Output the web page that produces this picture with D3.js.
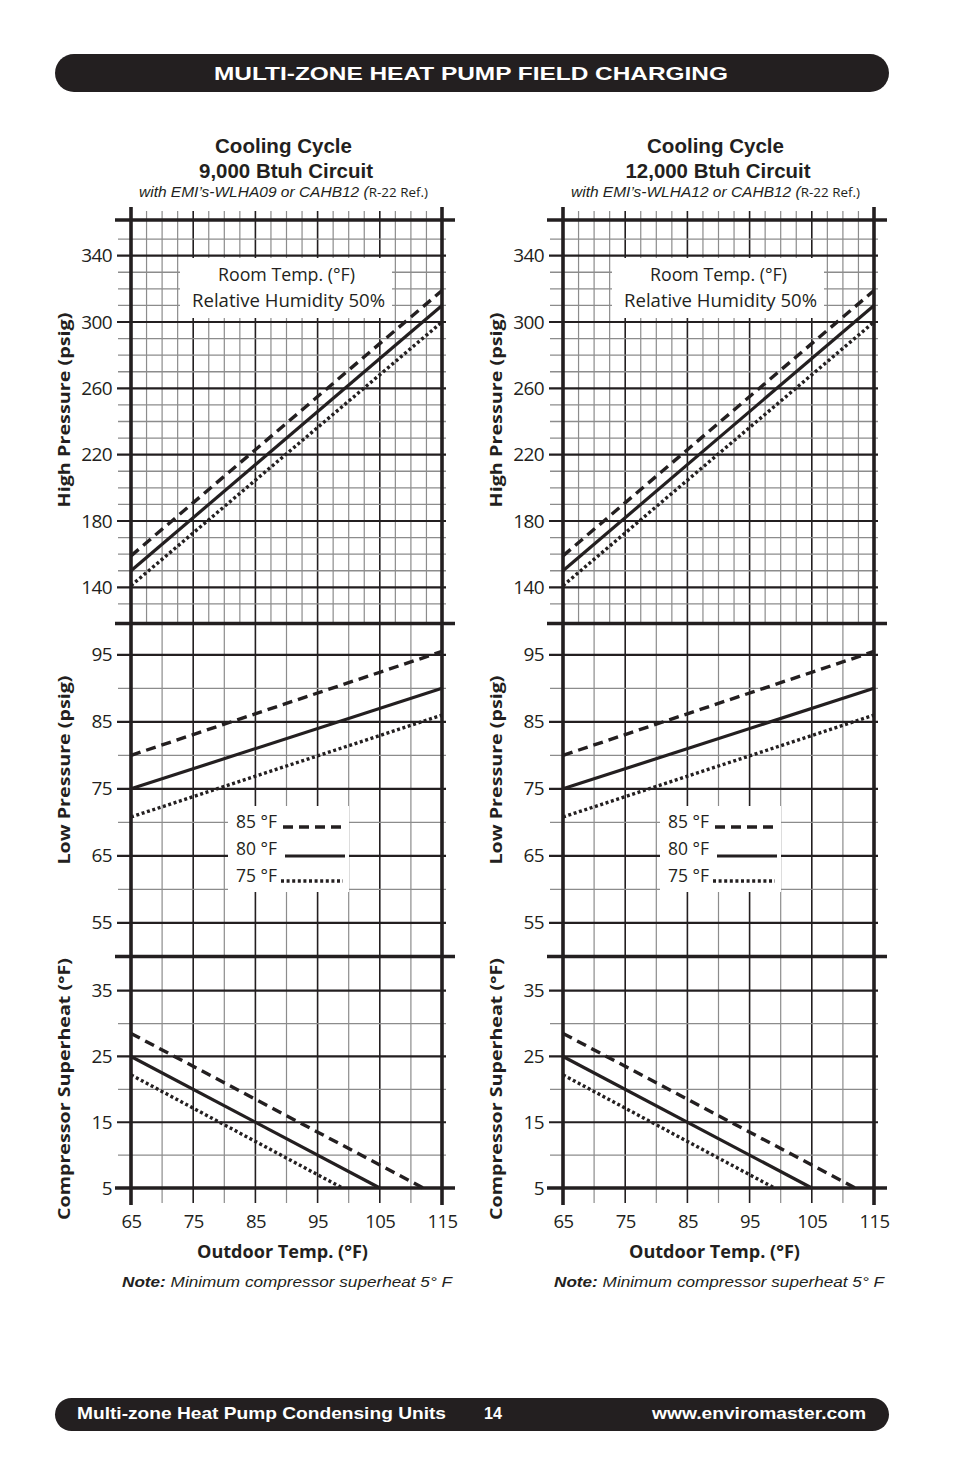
<!DOCTYPE html>
<html><head><meta charset="utf-8">
<script src="https://cdn.jsdelivr.net/npm/d3@7"></script>
<style>
html,body{margin:0;padding:0;background:#fff;}
svg{display:block;}
</style></head>
<body>
<svg id="c" width="954" height="1475"></svg>
<script>
// ---------- data ----------
const outdoorTicks = [65, 75, 85, 95, 105, 115];
const highTicks = [140, 180, 220, 260, 300, 340];
const lowTicks = [55, 65, 75, 85, 95];
const superTicks = [5, 15, 25, 35];
const roomTemps = ["85 °F", "80 °F", "75 °F"];
const lineStyles = ["dash", "solid", "dot"];

// High pressure (psig) vs outdoor temp, per room temp
const high85 = [[65, 159], [115, 319]];
const high80 = [[65, 150], [115, 310]];
const high75 = [[65, 141], [115, 300]];
// Low pressure (psig)
const low85 = [[65, 80], [115, 95.5]];
const low80 = [[65, 75], [115, 90]];
const low75 = [[65, 70.8], [115, 86]];
// Compressor superheat (°F)
const sh85 = [[65, 28.5], [112, 5]];
const sh80 = [[65, 25], [105, 5]];
const sh75 = [[65, 22.2], [99, 5]];

const charts = [
  {title: "Cooling Cycle", circuit: "9,000 Btuh Circuit", model: "with EMI’s-WLHA09 or CAHB12 ", offset: 0, cw: 174},
  {title: "Cooling Cycle", circuit: "12,000 Btuh Circuit", model: "with EMI’s-WLHA12 or CAHB12 ", offset: 432, cw: 185}
];

// ---------- drawing ----------
const INK = "#231f20";
const GRAY = "#8c8c8c";
const svg = d3.select("#c");
const MY = "'Open Sans', 'Noto Sans', sans-serif";
const HV = "'Liberation Sans', Arial, sans-serif";

// header
svg.append("rect").attr("x", 55).attr("y", 54).attr("width", 834).attr("height", 38).attr("rx", 19).attr("fill", INK);
svg.append("text").attr("x", 214).attr("y", 80).attr("font-family", HV).attr("font-weight", "bold")
  .attr("font-size", 19).attr("fill", "#fff").attr("textLength", 514).attr("lengthAdjust", "spacingAndGlyphs")
  .text("MULTI-ZONE HEAT PUMP FIELD CHARGING");

// footer
svg.append("rect").attr("x", 55).attr("y", 1398).attr("width", 834).attr("height", 33).attr("rx", 16.5).attr("fill", INK);
const foot = [["Multi-zone Heat Pump Condensing Units", 77, 369], ["14", 484, 18], ["www.enviromaster.com", 652, 214]];
foot.forEach(f => {
  svg.append("text").attr("x", f[1]).attr("y", 1419).attr("font-family", HV).attr("font-weight", "bold")
    .attr("font-size", 16.5).attr("fill", "#fff").attr("textLength", f[2]).attr("lengthAdjust", "spacingAndGlyphs").text(f[0]);
});

function styleFor(s) {
  if (s === "dash") return {w: 3.4, da: "10,6"};
  if (s === "dot") return {w: 3.4, da: "3,2.6"};
  return {w: 3.2, da: null};
}

function drawChart(cfg) {
  const ox = cfg.offset;
  const g = svg.append("g");
  const x = d3.scaleLinear().domain([65, 115]).range([131 + ox, 442 + ox]);
  const yH = d3.scaleLinear().domain([118.5, 361.5]).range([623, 220]);
  const yL = d3.scaleLinear().domain([49.9, 99.6]).range([957, 624]);
  const yS = d3.scaleLinear().domain([5, 40.2]).range([1188, 956.5]);
  const xl = x(65), xr = x(115);
  const cx = (xl + xr) / 2;

  // titles
  g.append("text").attr("x", cx - 3 - 137 / 2).attr("y", 153).attr("font-family", HV)
    .attr("font-weight", "bold").attr("font-size", 20).attr("fill", INK)
    .attr("textLength", 137).attr("lengthAdjust", "spacingAndGlyphs").text(cfg.title);
  g.append("text").attr("x", cx - 0.5 - cfg.cw / 2).attr("y", 178).attr("font-family", HV)
    .attr("font-weight", "bold").attr("font-size", 20).attr("fill", INK)
    .attr("textLength", cfg.cw).attr("lengthAdjust", "spacingAndGlyphs").text(cfg.circuit);
  const st = g.append("text").attr("x", 139 + ox).attr("y", 197).attr("font-family", HV)
    .attr("font-size", 15).attr("fill", INK).attr("textLength", 289).attr("lengthAdjust", "spacingAndGlyphs");
  st.append("tspan").attr("font-style", "italic").text(cfg.model + "(");
  st.append("tspan").attr("font-family", MY).attr("font-size", 13).text("R-22 Ref.)");

  // ---------- grid ----------
  d3.range(67.5, 115, 2.5).forEach(t => {
    const major = [75, 85, 95, 105].includes(t);
    g.append("line").attr("x1", x(t)).attr("x2", x(t)).attr("y1", 211).attr("y2", 623)
      .attr("stroke", major ? INK : GRAY).attr("stroke-width", major ? 1.6 : 1.2);
  });
  d3.range(130, 360, 10).forEach(v => {
    const major = highTicks.includes(v);
    g.append("line").attr("x1", major ? xl - 14 : xl - 13).attr("x2", xr + 4).attr("y1", yH(v)).attr("y2", yH(v))
      .attr("stroke", major ? INK : GRAY).attr("stroke-width", major ? 2.2 : 1.3);
  });
  d3.range(70, 115, 5).forEach(t => {
    const major = [75, 85, 95, 105].includes(t);
    g.append("line").attr("x1", x(t)).attr("x2", x(t)).attr("y1", 623).attr("y2", 1203)
      .attr("stroke", major ? INK : GRAY).attr("stroke-width", major ? 1.6 : 1.2);
  });
  d3.range(55, 100, 5).forEach(v => {
    const major = lowTicks.includes(v);
    g.append("line").attr("x1", major ? xl - 14 : xl - 13).attr("x2", xr + 4).attr("y1", yL(v)).attr("y2", yL(v))
      .attr("stroke", major ? INK : GRAY).attr("stroke-width", major ? 2.2 : 1.3);
  });
  d3.range(10, 40, 5).forEach(v => {
    const major = superTicks.includes(v);
    g.append("line").attr("x1", major ? xl - 14 : xl - 13).attr("x2", xr + 4).attr("y1", yS(v)).attr("y2", yS(v))
      .attr("stroke", major ? INK : GRAY).attr("stroke-width", major ? 2.2 : 1.3);
  });

  // white boxes (legend areas)
  g.append("rect").attr("x", 180 + ox).attr("y", 258).attr("width", 212).attr("height", 60).attr("fill", "#fff");
  g.append("rect").attr("x", 228 + ox).attr("y", 806).attr("width", 121).attr("height", 86).attr("fill", "#fff");

  // borders
  [220, 623.5, 956.5, 1188].forEach(yy => {
    g.append("line").attr("x1", xl - 16).attr("x2", xr + 13).attr("y1", yy).attr("y2", yy)
      .attr("stroke", INK).attr("stroke-width", 3.6);
  });
  [xl, xr].forEach(xx => {
    g.append("line").attr("x1", xx).attr("x2", xx).attr("y1", 207).attr("y2", 1205)
      .attr("stroke", INK).attr("stroke-width", 3.6);
  });

  // ---------- axes ----------
  const axes = [[yH, highTicks], [yL, lowTicks], [yS, superTicks]];
  axes.forEach(a => {
    const ax = g.append("g").attr("transform", `translate(${xl},0)`)
      .call(d3.axisLeft(a[0]).tickValues(a[1]).tickSize(0).tickPadding(19).tickFormat(d3.format("d")));
    ax.select(".domain").remove();
    ax.selectAll("text").attr("font-family", MY).attr("font-size", 19).attr("fill", INK).attr("letter-spacing", -0.6);
  });
  const bx = g.append("g").attr("transform", `translate(0,1188)`)
    .call(d3.axisBottom(x).tickValues(outdoorTicks).tickSize(0).tickPadding(27));
  bx.select(".domain").remove();
  bx.selectAll("text").attr("font-family", MY).attr("font-size", 18.5).attr("fill", INK).attr("letter-spacing", -0.6);

  // axis titles
  const yt = [["High Pressure (psig)", 410, 195], ["Low Pressure (psig)", 770, 189], ["Compressor Superheat (°F)", 1089, 262]];
  yt.forEach(t => {
    g.append("text").attr("transform", `translate(${70 + ox},${t[1]}) rotate(-90)`).attr("text-anchor", "middle")
      .attr("font-family", MY).attr("font-weight", "bold").attr("font-size", 16.5).attr("fill", INK)
      .attr("textLength", t[2]).attr("lengthAdjust", "spacingAndGlyphs").text(t[0]);
  });
  g.append("text").attr("x", 197 + ox).attr("y", 1258).attr("font-family", MY).attr("font-weight", "bold")
    .attr("font-size", 18.5).attr("fill", INK).attr("textLength", 171).attr("lengthAdjust", "spacingAndGlyphs")
    .text("Outdoor Temp. (°F)");
  const nt = g.append("text").attr("x", 122 + ox).attr("y", 1287).attr("font-family", HV).attr("font-style", "italic")
    .attr("font-size", 15.5).attr("fill", INK).attr("textLength", 330).attr("lengthAdjust", "spacingAndGlyphs");
  nt.append("tspan").attr("font-weight", "bold").text("Note:");
  nt.append("tspan").text(" Minimum compressor superheat 5° F");

  // room temp box text
  g.append("text").attr("x", 218 + ox).attr("y", 281).attr("font-family", MY).attr("font-size", 18).attr("fill", INK)
    .attr("textLength", 137).attr("lengthAdjust", "spacingAndGlyphs").text("Room Temp. (°F)");
  g.append("text").attr("x", 192 + ox).attr("y", 307).attr("font-family", MY).attr("font-size", 18).attr("fill", INK)
    .attr("textLength", 193).attr("lengthAdjust", "spacingAndGlyphs").text("Relative Humidity 50%");

  // ---------- data lines ----------
  const sets = [
    [yH, [high85, high80, high75]],
    [yL, [low85, low80, low75]],
    [yS, [sh85, sh80, sh75]]
  ];
  sets.forEach(s => {
    const line = d3.line().x(d => x(d[0])).y(d => s[0](d[1]));
    s[1].forEach((data, i) => {
      const st = styleFor(lineStyles[i]);
      const p = g.append("path").attr("d", line(data)).attr("fill", "none").attr("stroke", INK)
        .attr("stroke-width", st.w);
      if (st.da) p.attr("stroke-dasharray", st.da);
    });
  });

  // legend
  const legY = [827, 856, 881];
  const legText = [828, 855, 882];
  const legX = [[283, 343], [285, 345], [281, 343]];
  roomTemps.forEach((lab, i) => {
    g.append("text").attr("x", 236 + ox).attr("y", legText[i]).attr("font-family", MY).attr("font-size", 18)
      .attr("fill", INK).attr("textLength", 41).attr("lengthAdjust", "spacingAndGlyphs").text(lab);
    const st = styleFor(lineStyles[i]);
    const l = g.append("line").attr("x1", legX[i][0] + ox).attr("x2", legX[i][1] + ox)
      .attr("y1", legY[i]).attr("y2", legY[i]).attr("stroke", INK).attr("stroke-width", st.w);
    if (st.da) l.attr("stroke-dasharray", st.da);
  });
}

charts.forEach(drawChart);
</script>
</body></html>
